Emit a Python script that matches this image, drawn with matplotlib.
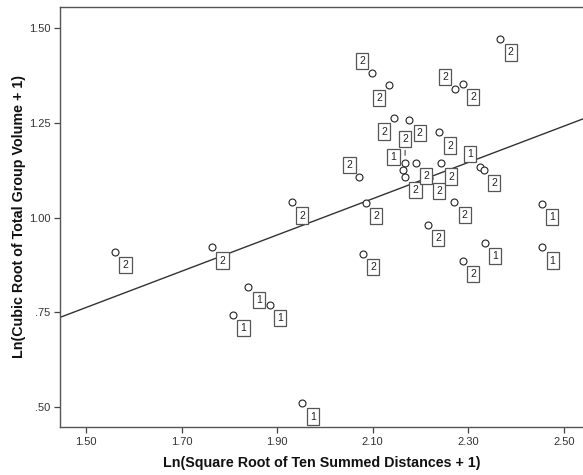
import numpy as np
import matplotlib
matplotlib.use('Agg')
from matplotlib import pyplot as plt

# Ln(sqrt(ten summed distances) + 1) per group
dist = [1.561, 1.764, 1.840, 1.808, 1.885, 1.953, 1.931, 2.072,
        2.086, 2.079, 2.099, 2.134, 2.145, 2.177, 2.168, 2.164,
        2.168, 2.190, 2.218, 2.240, 2.243, 2.272, 2.289, 2.271,
        2.215, 2.289, 2.324, 2.333, 2.335, 2.367, 2.454, 2.455]

# Ln(cbrt(total group volume) + 1)
volume = [0.910, 0.921, 0.817, 0.742, 0.769, 0.509, 1.040, 1.106,
          1.038, 0.904, 1.381, 1.350, 1.262, 1.258, 1.145, 1.126,
          1.108, 1.145, 1.105, 1.225, 1.143, 1.339, 1.353, 1.041,
          0.980, 0.886, 1.134, 1.126, 0.933, 1.471, 1.036, 0.921]

# group code shown next to each point
group = ['2', '2', '1', '1', '1', '1', '2', '2',
         '2', '2', '2', '2', '2', '2', '2', '1',
         '2', '2', '2', '2', '2', '2', '2', '2',
         '2', '2', '1', '2', '1', '2', '1', '1']

# where each label sits relative to its point (offset in points)
label_side = {
    'br': (7.5, -9.5), 'tl': (-7, 9), 'bl': (-7, -9.5), 'up': (0, 17),
}
label_pos = ['br', 'br', 'br', 'br', 'br', 'br', 'br', 'tl',
             'br', 'br', 'tl', 'bl', 'bl', 'br', 'up', 'tl',
             'br', 'br', 'br', 'br', 'br', 'tl', 'br', 'br',
             'br', 'br', 'tl', 'br', 'br', 'br', 'br', 'br']

plt.rcParams['font.family'] = ['Liberation Sans', 'DejaVu Sans']

fig = plt.figure(figsize=(5.83, 4.75), dpi=100)
ax = fig.add_axes([60 / 583, 48 / 475, 1 - 60 / 583, 420 / 475])

x = np.array(dist)
y = np.array(volume)

# linear fit line across the whole axis
slope, intercept = np.polyfit(x, y, 1)
xlim = (1.4456, 2.5404)
xs = np.array(xlim)
ax.plot(xs, intercept + slope * xs, color='#333333', lw=1.0, zorder=2)

ax.plot(x, y, 'o', ms=5, mfc='white', mec='#222222', mew=0.8, zorder=3)

for xi, yi, g, side in zip(x, y, group, label_pos):
    dx, dy = label_side[side]
    ax.annotate(g, (xi, yi), xytext=(dx, dy), textcoords='offset points',
                ha='center', va='center', fontsize=7.5, color='#222222',
                bbox=dict(boxstyle='square,pad=0.3', fc='white',
                          ec='#555555', lw=0.9),
                zorder=4)
    if side == 'up':
        ax.annotate('', (xi, yi + 0.012), xytext=(xi, yi + 0.04),
                    arrowprops=dict(arrowstyle='-', color='#444444', lw=0.8),
                    zorder=3)

ax.set_xlim(*xlim)
ax.set_ylim(0.4464, 1.5563)

xt = [1.5, 1.7, 1.9, 2.1, 2.3, 2.5]
ax.set_xticks(xt)
ax.set_xticklabels(['%.2f' % v for v in xt])
yt = [0.5, 0.75, 1.0, 1.25, 1.5]
ax.set_yticks(yt)
ax.set_yticklabels(['.50', '.75', '1.00', '1.25', '1.50'])

ax.tick_params(direction='out', length=4, width=0.9, colors='#444444',
               labelsize=8, labelcolor='#333333', pad=3)

for side in ('left', 'bottom', 'top'):
    ax.spines[side].set_color('#555555')
    ax.spines[side].set_linewidth(1.0)
ax.spines['right'].set_visible(False)

ax.set_xlabel('Ln(Square Root of Ten Summed Distances + 1)',
              fontsize=10.3, fontweight='bold', color='#111111', labelpad=7)
ax.set_ylabel('Ln(Cubic Root of Total Group Volume + 1)',
              fontsize=10.3, fontweight='bold', color='#111111', labelpad=2)

fig.savefig('out.png', dpi=100)
plt.close(fig)
